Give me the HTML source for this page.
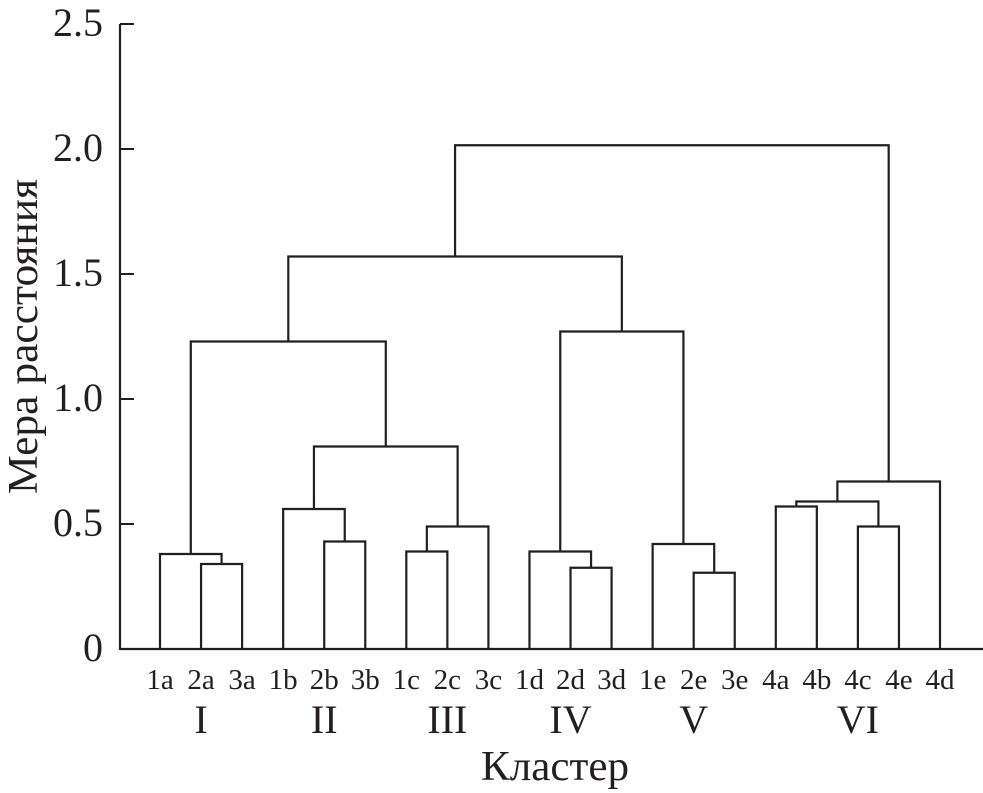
<!DOCTYPE html>
<html><head><meta charset="utf-8">
<style>
html,body{margin:0;padding:0;background:#fff;}
svg{display:block;font-family:"Liberation Serif",serif;}
</style></head>
<body>
<svg id="chart" width="983" height="793" viewBox="0 0 983 793">
<g id="axes"></g>
<g id="links"></g>
<g id="labels"></g>
</svg>
<script>
const leafLabels = ["1a","2a","3a","1b","2b","3b","1c","2c","3c","1d","2d","3d","1e","2e","3e","4a","4b","4c","4e","4d"];
const mergeLeft  = [1,0,4,3,6,24,23,21,10,9,13,12,29,27,15,17,34,36,33];
const mergeRight = [2,20,5,22,7,8,25,26,11,28,14,30,31,32,16,18,35,19,37];
const mergeHeight = [0.34,0.38,0.43,0.56,0.39,0.49,0.81,1.23,0.325,0.39,0.305,0.42,1.27,1.57,0.57,0.49,0.59,0.67,2.015];
const yTicks = [0,0.5,1.0,1.5,2.0,2.5];
const yTickLabels = ["0","0.5","1.0","1.5","2.0","2.5"];
const clusterNames = ["I","II","III","IV","V","VI"];
const clusterLeafStart = [0,3,6,9,12,15];
const clusterLeafEnd = [2,5,8,11,14,19];

const NS="http://www.w3.org/2000/svg";
const y0=649, yPerUnit=250;
function yScale(v){return y0 - v*yPerUnit;}
const xFirst=160, xLast=940;
function xScale(i){return xFirst + i*(xLast-xFirst)/(leafLabels.length-1);}
function mk(tag,attrs,parent){const e=document.createElementNS(NS,tag);for(const k in attrs)e.setAttribute(k,attrs[k]);parent.appendChild(e);return e;}

const axes=document.getElementById('axes');
const links=document.getElementById('links');
const labels=document.getElementById('labels');

let e=mk('line',{x1:120,y1:yScale(0),x2:983,y2:yScale(0),stroke:'#231f20','stroke-width':2.2},axes);


e=mk('line',{x1:120,y1:yScale(0)+1,x2:120,y2:yScale(2.5),stroke:'#231f20','stroke-width':2.2},axes);



yTicks.forEach((v,i)=>{
  const t=mk('line',{x1:120,y1:yScale(v),x2:134,y2:yScale(v),stroke:'#231f20','stroke-width':2},axes);
  
  
  const l=mk('text',{x:103,y:yScale(v)+12,'text-anchor':'end','font-size':40,fill:'#231f20'},axes);
  l.textContent=yTickLabels[i];
  
  
});

const nodeX=[], nodeH=[];
leafLabels.forEach((s,i)=>{nodeX.push(xScale(i));nodeH.push(0);});
mergeHeight.forEach((h,k)=>{
  const a=mergeLeft[k], b=mergeRight[k];
  const xa=nodeX[a], xb=nodeX[b];
  const p=mk('path',{d:`M${xa},${yScale(nodeH[a])} V${yScale(h)} H${xb} V${yScale(nodeH[b])}`,fill:'none',stroke:'#231f20','stroke-width':2.2},links);
  
  
  nodeX.push((xa+xb)/2);nodeH.push(h);
});

leafLabels.forEach((s,i)=>{
  const t=mk('text',{x:xScale(i),y:689,'text-anchor':'middle','font-size':29,fill:'#231f20'},labels);
  t.textContent=s;
  
  
});
clusterNames.forEach((s,i)=>{
  const cx=(xScale(clusterLeafStart[i])+xScale(clusterLeafEnd[i]))/2;
  const t=mk('text',{x:cx,y:733,'text-anchor':'middle','font-size':40,fill:'#231f20'},labels);
  t.textContent=s;
  
  
});
e=mk('text',{x:481,y:780,'font-size':42,fill:'#231f20',textLength:148,lengthAdjust:'spacingAndGlyphs'},labels);
e.textContent='Кластер';


e=mk('text',{x:-157,y:0,'font-size':42,fill:'#231f20',textLength:315,lengthAdjust:'spacingAndGlyphs',transform:'translate(37,337) rotate(-90)'},labels);
e.textContent='Мера расстояния';


</script>
</body></html>
